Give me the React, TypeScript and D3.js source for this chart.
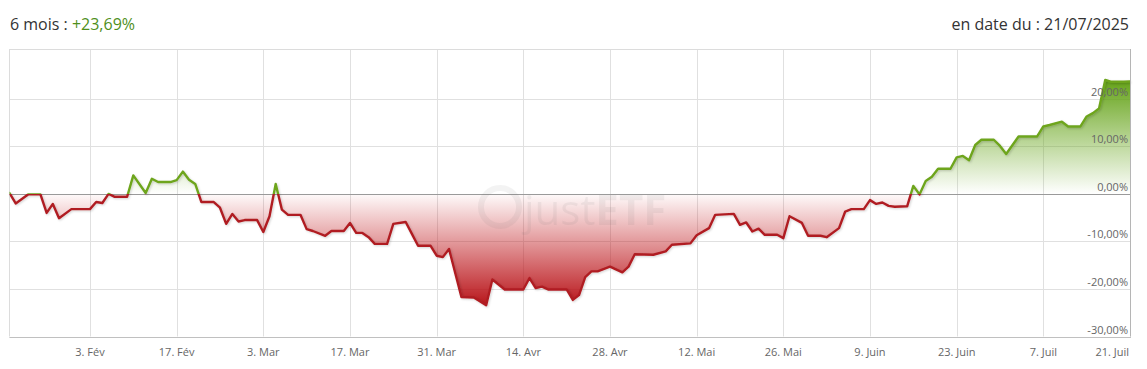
import React from 'react';
import * as d3 from 'd3';

const dates = [
  "2025-01-21","2025-01-22","2025-01-24","2025-01-26","2025-01-27","2025-01-28","2025-01-29","2025-01-31",
  "2025-02-03","2025-02-04","2025-02-05","2025-02-06","2025-02-07","2025-02-09","2025-02-10","2025-02-12",
  "2025-02-13","2025-02-14","2025-02-16","2025-02-17","2025-02-18","2025-02-19","2025-02-20","2025-02-21",
  "2025-02-23","2025-02-24","2025-02-25","2025-02-26","2025-02-27","2025-02-28","2025-03-02","2025-03-03",
  "2025-03-04","2025-03-05","2025-03-06","2025-03-07","2025-03-09","2025-03-10","2025-03-11","2025-03-13",
  "2025-03-14","2025-03-16","2025-03-17","2025-03-18","2025-03-19","2025-03-20","2025-03-21","2025-03-23",
  "2025-03-24","2025-03-26","2025-03-27","2025-03-28","2025-03-30","2025-03-31","2025-04-01","2025-04-02",
  "2025-04-04","2025-04-06","2025-04-08","2025-04-09","2025-04-11","2025-04-14","2025-04-15","2025-04-16",
  "2025-04-17","2025-04-18","2025-04-21","2025-04-22","2025-04-23","2025-04-24","2025-04-25","2025-04-26",
  "2025-04-28","2025-04-30","2025-05-01","2025-05-02","2025-05-05","2025-05-07","2025-05-08","2025-05-11",
  "2025-05-12","2025-05-14","2025-05-15","2025-05-18","2025-05-19","2025-05-20","2025-05-21","2025-05-22",
  "2025-05-23","2025-05-25","2025-05-26","2025-05-27","2025-05-29","2025-05-30","2025-06-01","2025-06-02",
  "2025-06-04","2025-06-05","2025-06-06","2025-06-08","2025-06-09","2025-06-10","2025-06-11","2025-06-12",
  "2025-06-13","2025-06-15","2025-06-16","2025-06-17","2025-06-18","2025-06-19","2025-06-20","2025-06-22",
  "2025-06-23","2025-06-24","2025-06-25","2025-06-26","2025-06-27","2025-06-29","2025-06-30","2025-07-01",
  "2025-07-03","2025-07-06","2025-07-07","2025-07-08","2025-07-10","2025-07-11","2025-07-13","2025-07-14",
  "2025-07-15","2025-07-16","2025-07-17","2025-07-18","2025-07-20","2025-07-21"
];

const values = [
  0.2, -2.0, -0.1, -0.1, -4.0, -2.1, -5.1, -3.2,
  -3.2, -1.7, -1.9, 0.0, -0.6, -0.6, 3.9, 0.2,
  3.2, 2.5, 2.5, 2.9, 4.7, 3.0, 2.1, -1.7,
  -1.7, -2.9, -6.3, -4.2, -5.8, -5.5, -5.5, -8.0,
  -4.7, 2.1, -3.3, -4.4, -4.4, -7.4, -7.8, -8.8,
  -7.8, -7.8, -6.1, -8.2, -8.2, -9.1, -10.5, -10.5,
  -6.3, -5.9, -8.4, -10.9, -10.9, -13.0, -13.3, -11.6,
  -21.7, -21.8, -23.4, -18.0, -20.1, -20.1, -17.7, -19.8,
  -19.5, -20.1, -20.1, -22.3, -21.3, -17.5, -16.3, -16.3,
  -15.3, -16.5, -15.3, -12.7, -12.8, -12.1, -10.7, -10.4,
  -8.7, -7.2, -4.4, -4.2, -6.5, -6.0, -7.9, -7.3,
  -8.6, -8.6, -9.3, -4.7, -6.1, -8.8, -8.8, -9.1,
  -7.2, -3.7, -3.2, -3.2, -1.3, -2.1, -1.8, -2.5,
  -2.7, -2.6, 1.7, -0.1, 2.7, 3.6, 5.3, 5.3,
  7.7, 8.0, 7.1, 10.3, 11.4, 11.4, 10.1, 8.4,
  12.1, 12.1, 14.2, 14.5, 15.2, 14.2, 14.2, 16.3,
  17.0, 18.0, 24.0, 23.6, 23.6, 23.69
];

const xTickDates = [
  "2025-02-03","2025-02-17","2025-03-03","2025-03-17","2025-03-31","2025-04-14","2025-04-28",
  "2025-05-12","2025-05-26","2025-06-09","2025-06-23","2025-07-07","2025-07-21"
];
const xTickLabels = [
  "3. Fév","17. Fév","3. Mar","17. Mar","31. Mar","14. Avr","28. Avr",
  "12. Mai","26. Mai","9. Juin","23. Juin","7. Juil","21. Juil"
];
const yTicks = [-30, -20, -10, 0, 10, 20];
const yMin = -30;
const yMax = 30.5;

const periodLabel = "6 mois : ";
const performanceLabel = "+23,69%";
const asOfLabel = "en date du : 21/07/2025";

const FONT = "'Open Sans', 'Noto Sans', sans-serif";

export default function App() {
  const W = 1147;
  const H = 369;
  const left = 9.5;
  const right = 1130;
  const top = 49;
  const bottom = 336.5;

  const parse = d3.utcParse("%Y-%m-%d");
  const data = dates.map((d, i) => ({ date: parse(d) as Date, v: values[i] }));

  const x = d3
    .scaleUtc()
    .domain(d3.extent(data, (d) => d.date) as [Date, Date])
    .range([left, right]);
  const y = d3.scaleLinear().domain([yMin, yMax]).range([bottom, top]);

  const y0 = y(0);
  const minV = d3.min(values) as number;
  const maxV = d3.max(values) as number;

  const areaGen = d3
    .area<{ date: Date; v: number }>()
    .x((d) => x(d.date))
    .y0(y0)
    .y1((d) => y(d.v));
  const lineGen = d3
    .line<{ date: Date; v: number }>()
    .x((d) => x(d.date))
    .y((d) => y(d.v));

  const areaPath = areaGen(data) || "";
  const linePath = lineGen(data) || "";

  const fmt = (v: number) => v.toFixed(2).replace(".", ",") + "%";

  return (
    <svg
      width={W}
      height={H}
      style={{ position: "absolute", left: 0, top: 0, background: "#fff" }}
      fontFamily={FONT}
    >
      <defs>
        <clipPath id="clipPos">
          <rect x={left} y={top} width={right - left} height={y0 - top} />
        </clipPath>
        <clipPath id="clipNeg">
          <rect x={left} y={y0} width={right - left} height={bottom - y0} />
        </clipPath>
        <linearGradient id="gradNeg" gradientUnits="userSpaceOnUse" x1={0} y1={y0} x2={0} y2={y(minV)}>
          <stop offset="0" stopColor="#c41a1f" stopOpacity={0.02} />
          <stop offset="1" stopColor="#b8161b" stopOpacity={1} />
        </linearGradient>
        <linearGradient id="gradPos" gradientUnits="userSpaceOnUse" x1={0} y1={y0} x2={0} y2={y(maxV)}>
          <stop offset="0" stopColor="#6aa81e" stopOpacity={0} />
          <stop offset="1" stopColor="#64a218" stopOpacity={1} />
        </linearGradient>
        <filter id="shadow" x="-5%" y="-20%" width="110%" height="140%">
          <feDropShadow dx="1" dy="1" stdDeviation="1" floodColor="#000" floodOpacity="0.18" />
        </filter>
      </defs>

      {/* Title */}
      <text x={10} y={30} fontSize={16} fill="#333">
        {periodLabel}
        <tspan fill="#4f8f1c">{performanceLabel}</tspan>
      </text>
      <text x={1129} y={30} fontSize={16} fill="#333" textAnchor="end">
        {asOfLabel}
      </text>

      {/* Grid */}
      {xTickDates.map((d, i) => {
        const xx = Math.round(x(parse(d) as Date)) + 0.5;
        return (
          <line key={"gx" + i} x1={xx} x2={xx} y1={top} y2={bottom} stroke="#e0e0e0" strokeWidth={1} />
        );
      })}
      {yTicks.map((t) => {
        const yy = Math.round(y(t)) + 0.5;
        return t === 0 ? null : (
          <line key={"gy" + t} x1={left} x2={right} y1={yy} y2={yy} stroke="#e0e0e0" strokeWidth={1} />
        );
      })}
      {/* Plot frame */}
      <line x1={left} x2={right} y1={top + 0.5} y2={top + 0.5} stroke="#dcdcdc" />
      <line x1={left} x2={left} y1={top} y2={bottom} stroke="#dcdcdc" />

      {/* Areas */}
      <path d={areaPath} fill="url(#gradNeg)" clipPath="url(#clipNeg)" />
      <path d={areaPath} fill="url(#gradPos)" clipPath="url(#clipPos)" />

      {/* Zero line */}
      <line
        x1={left}
        x2={right}
        y1={Math.round(y0) + 0.5}
        y2={Math.round(y0) + 0.5}
        stroke="#9a9a9a"
        strokeWidth={1}
      />

      {/* Watermark */}
      <g opacity={0.08} fill="#666" stroke="#666">
        <circle cx={500} cy={207} r={19} fill="none" strokeWidth={6} />
        <text x={524} y={225} fontSize={42} stroke="none">
          <tspan fontWeight={400}>just</tspan>
          <tspan fontWeight={700}>ETF</tspan>
        </text>
      </g>

      {/* Lines */}
      <g filter="url(#shadow)">
        <path
          d={linePath}
          fill="none"
          stroke="#b01e22"
          strokeWidth={2.4}
          strokeLinejoin="round"
          strokeLinecap="round"
          clipPath="url(#clipNeg)"
        />
        <path
          d={linePath}
          fill="none"
          stroke="#6ea51f"
          strokeWidth={2.4}
          strokeLinejoin="round"
          strokeLinecap="round"
          clipPath="url(#clipPos)"
        />
      </g>

      {/* Axes lines */}
      <line x1={right + 0.5} x2={right + 0.5} y1={top} y2={bottom} stroke="#b5b5b5" />
      <line x1={left} x2={right + 1} y1={Math.round(bottom) + 0.5} y2={Math.round(bottom) + 0.5} stroke="#c0c0c0" />

      {/* Y labels */}
      {yTicks.map((t) => (
        <text
          key={"yl" + t}
          x={1128}
          y={y(t) - 3}
          fontSize={11}
          fill="#666"
          textAnchor="end"
        >
          {fmt(t)}
        </text>
      ))}

      {/* X labels */}
      {xTickDates.map((d, i) => {
        const last = i === xTickDates.length - 1;
        return (
          <text
            key={"xl" + i}
            x={last ? 1129 : x(parse(d) as Date)}
            y={356}
            fontSize={11}
            fill="#666"
            textAnchor={last ? "end" : "middle"}
          >
            {xTickLabels[i]}
          </text>
        );
      })}
    </svg>
  );
}
